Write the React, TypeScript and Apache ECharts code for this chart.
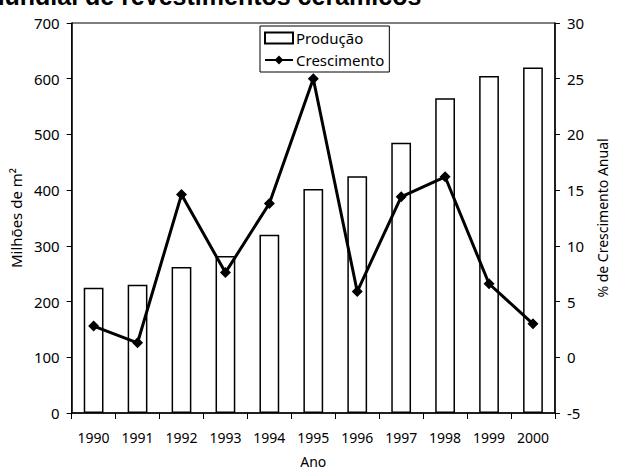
import React, { useEffect, useRef } from "react";
import * as echarts from "echarts";

const years = ["1990", "1991", "1992", "1993", "1994", "1995", "1996", "1997", "1998", "1999", "2000"];
const producao = [225, 230, 262, 282, 320, 402, 425, 485, 565, 605, 620];
const crescimento = [2.8, 1.3, 14.6, 7.6, 13.8, 25.0, 5.9, 14.4, 16.2, 6.6, 3.0];
const titleText = "Produção mundial de revestimentos cerâmicos";

const FONT = "Noto Sans";

export default function App() {
  const ref = useRef<HTMLDivElement>(null);
  useEffect(() => {
    document.body.style.margin = "0";
    const chart = echarts.init(ref.current!, null, { renderer: "svg" });
    chart.setOption({
      animation: false,
      backgroundColor: "#ffffff",
      textStyle: { fontFamily: FONT, color: "#000" },
      graphic: [
        {
          type: "text",
          left: -140,
          top: -17,
          style: {
            text: titleText,
            fontFamily: "Liberation Sans",
            fontWeight: "bold",
            fontSize: 25,
            fill: "#000",
          },
        },
      ],
      grid: {
        left: 70,
        right: 54,
        top: 23,
        bottom: 52,
        show: true,
        borderColor: "#000",
        borderWidth: 1,
        backgroundColor: "#fff",
      },
      legend: {
        left: 260,
        top: 26,
        orient: "vertical",
        backgroundColor: "#fff",
        borderColor: "#000",
        borderWidth: 1,
        borderRadius: 0,
        padding: [4, 5, 4, 4],
        itemGap: 6,
        itemWidth: 28,
        itemHeight: 11,
        textStyle: { fontFamily: FONT, fontSize: 15, color: "#000", lineHeight: 16, padding: [0, 0, 0, -2] },
        data: [
          { name: "Produção", icon: "rect" },
          { name: "Crescimento" },
        ],
      },
      xAxis: {
        type: "category",
        data: years,
        name: "Ano",
        nameLocation: "middle",
        nameGap: 41,
        nameTextStyle: { fontFamily: FONT, fontSize: 14, color: "#000" },
        axisLine: { lineStyle: { color: "#000", width: 1.5 } },
        axisTick: { show: true, length: 6, lineStyle: { color: "#000" } },
        axisLabel: { fontFamily: FONT, fontSize: 14, color: "#000", margin: 17, interval: 0 },
      },
      yAxis: [
        {
          type: "value",
          min: 0,
          max: 700,
          interval: 100,
          name: "Milhões de m²",
          nameLocation: "middle",
          nameGap: 46,
          nameTextStyle: { fontFamily: FONT, fontSize: 15, color: "#000" },
          axisLine: { show: true, lineStyle: { color: "#000", width: 1.5 } },
          axisTick: { show: true, length: 5, lineStyle: { color: "#000" } },
          axisLabel: { fontFamily: FONT, fontSize: 15, color: "#000", margin: 12 },
          splitLine: { show: false },
        },
        {
          type: "value",
          min: -5,
          max: 30,
          interval: 5,
          position: "right",
          name: "% de Crescimento Anual",
          nameLocation: "middle",
          nameGap: 36,
          nameTextStyle: { fontFamily: FONT, fontSize: 14, color: "#000" },
          axisLine: { show: true, lineStyle: { color: "#000", width: 1.5 } },
          axisTick: { show: true, length: 5, lineStyle: { color: "#000" } },
          axisLabel: { fontFamily: FONT, fontSize: 15, color: "#000", margin: 12 },
          splitLine: { show: false },
        },
      ],
      series: [
        {
          name: "Produção",
          type: "bar",
          yAxisIndex: 0,
          data: producao,
          barWidth: "45%",
          itemStyle: { color: "#fff", borderColor: "#000", borderWidth: 1.5 },
        },
        {
          name: "Crescimento",
          type: "line",
          yAxisIndex: 1,
          data: crescimento,
          symbol: "diamond",
          symbolSize: 11,
          lineStyle: { color: "#000", width: 3 },
          itemStyle: { color: "#000" },
        },
      ],
    });
    return () => chart.dispose();
  }, []);
  return <div ref={ref} style={{ width: 617, height: 473 }} />;
}
